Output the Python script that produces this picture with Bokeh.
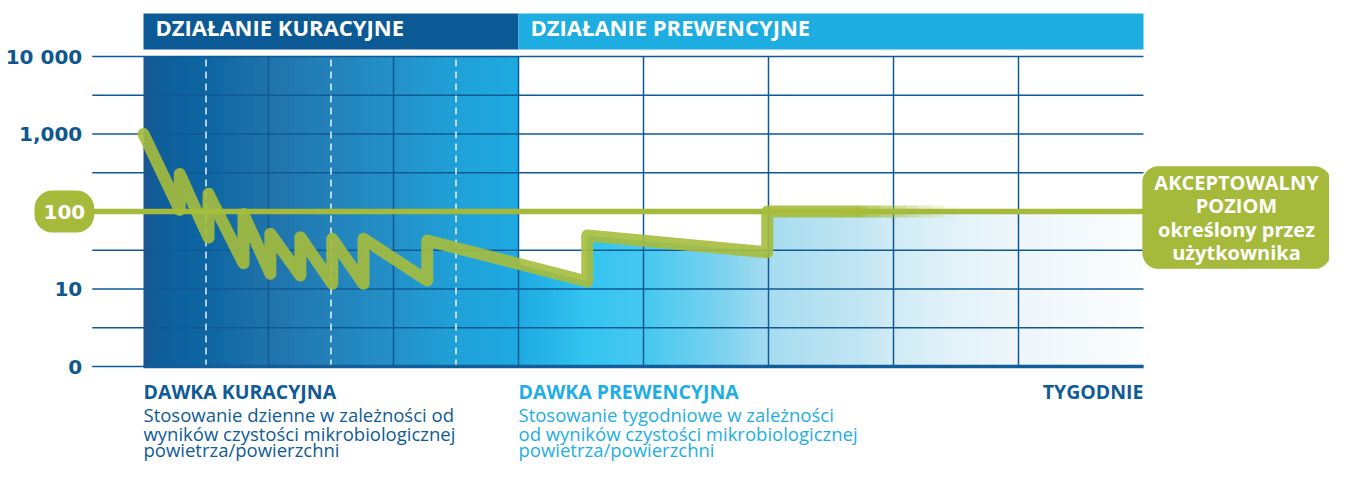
import numpy as np
from bokeh.plotting import figure
from bokeh.models import Label, Range1d
from bokeh.core.properties import value
from bokeh.embed import file_html
from bokeh.resources import INLINE

# ---------------- data ----------------
phases = ["DZIAŁANIE KURACYJNE", "DZIAŁANIE PREWENCYJNE"]
phase_start = [0, 6]
phase_end = [6, 16]
day_dashed = [1, 3, 5]          # daily boundaries (dashed)
day_solid = [2, 4]              # daily boundaries (solid)
week_lines = [6, 8, 10, 12, 14]  # weekly boundaries
y_ticks = [1, 10, 100, 1000, 10000]
y_tick_labels = ["0", "10", "100", "1,000", "10 000"]
acceptable_level = 100
acceptable_label = ["AKCEPTOWALNY", "POZIOM", "określony przez", "użytkownika"]

time = [0, 0.58, 0.58, 1.04, 1.04, 1.6, 1.6, 2.03, 2.03, 2.51, 2.51,
        3.02, 3.02, 3.52, 3.52, 4.54, 4.54, 7.1, 7.1, 9.98, 9.98, 11.4]
cfu = [1000, 105, 305, 46, 169, 21.5, 93, 15.7, 51.5, 14.9, 46.6,
       11.7, 44.4, 11.7, 44.4, 12.9, 42.3, 12.5, 49, 29.8, 100, 100]

cur_title = "DAWKA KURACYJNA"
cur_desc = ["Stosowanie dzienne w zależności od",
            "wyników czystości mikrobiologicznej",
            "powietrza/powierzchni"]
prev_title = "DAWKA PREWENCYJNA"
prev_desc = ["Stosowanie tygodniowe w zależności",
             "od wyników czystości mikrobiologicznej",
             "powietrza/powierzchni"]
x_unit_label = "TYGODNIE"

# ---------------- layout / style ----------------
W, H = 1329, 462
PX_X = 62.5
X_START = -143 / PX_X
X_END = X_START + W / PX_X
PX_DEC = 77.5
Y_TOP_LOG = 366 / PX_DEC
Y_BOT_LOG = Y_TOP_LOG - H / PX_DEC
GRID_X0 = -0.82
HEADER_BOT_LOG, HEADER_TOP_LOG = 4.09, 4.555
HEADER_TEXT_LOG = 4.387

DARK = "#0c5a95"
LIGHT = "#1eade1"
GRID = "#0f5a95"
GREEN = "#a5b93b"
TXT_DARK = "#0e5b96"
TXT_LIGHT = "#1eaee3"

DARK_STOPS = [(0.0, "#1b5592"), (0.04, "#0e5f9b"), (0.17, "#0d66a2"), (0.33, "#1f73aa"),
              (0.5, "#2382ba"), (0.67, "#2391c8"), (0.83, "#20a0d8"), (1.0, "#1eaae1")]
LIGHT_STOPS = [(0.0, "#1eaae1"), (0.11, "#33c4f0"), (0.2, "#45c8f0"), (0.33, "#7ed2ef"),
               (0.4, "#a6dcf0"), (0.54, "#c0e5f2"), (0.6, "#d0ebf5"), (0.7, "#e3f2f9"),
               (0.8, "#eef6fb"), (1.0, "#fbfdfe")]


def hex2rgb(h):
    h = h.lstrip("#")
    return np.array([int(h[i:i + 2], 16) for i in (0, 2, 4)], dtype=float)


def grad_colors(stops, fr):
    pos = np.array([s[0] for s in stops])
    cols = np.array([hex2rgb(s[1]) for s in stops])
    out = []
    for f in fr:
        rgb = [np.interp(f, pos, cols[:, k]) for k in range(3)]
        out.append("#%02x%02x%02x" % tuple(int(round(c)) for c in rgb))
    return out


def strips(x0, x1, n, stops):
    edges = np.linspace(x0, x1, n + 1)
    centers = (edges[:-1] + edges[1:]) / 2
    cols = grad_colors(stops, (centers - x0) / (x1 - x0))
    right = edges[1:].copy()
    right[:-1] += (x1 - x0) / n * 0.6
    return edges[:-1], right, cols


p = figure(width=W, height=H, x_range=Range1d(X_START, X_END),
           y_range=Range1d(10 ** Y_BOT_LOG, 10 ** Y_TOP_LOG), y_axis_type="log",
           x_axis_location=None, y_axis_location=None, min_border=0,
           toolbar_location=None, output_backend="svg", outline_line_color=None,
           background_fill_color="white", border_fill_color="white")
p.grid.visible = False

y_lo, y_hi = y_ticks[0], y_ticks[-1]

# preventive gradient (full height), then white mask above the curve
l, r, c = strips(phase_start[1], phase_end[1], 125, LIGHT_STOPS)
p.quad(left=l, right=r, bottom=y_lo, top=y_hi, fill_color=c, line_color=None)
i0 = max(i for i, t in enumerate(time) if t < phase_start[1])
mask_x = time[i0:] + [phase_end[1]]
mask_y = cfu[i0:] + [acceptable_level]
p.varea(x=mask_x, y1=mask_y, y2=y_hi, fill_color="white")

# curative gradient (full height)
l, r, c = strips(phase_start[0], phase_end[0], 75, DARK_STOPS)
p.quad(left=l, right=r, bottom=y_lo, top=y_hi, fill_color=c, line_color=None)

# grid
y_grid = 10 ** np.arange(0, 4.01, 0.5)
p.segment(x0=GRID_X0, x1=phase_end[-1], y0=y_grid, y1=y_grid, line_color=GRID, line_width=1.5)
vx = day_solid + week_lines
p.segment(x0=vx, x1=vx, y0=y_lo, y1=y_hi, line_color=GRID, line_width=1.5)
p.segment(x0=day_dashed, x1=day_dashed, y0=y_lo, y1=y_hi, line_color="white",
          line_width=1.5, line_dash="7 5", line_alpha=0.9)
p.segment(x0=phase_start[0], x1=phase_end[-1], y0=y_lo, y1=y_lo, line_color="#125e9a", line_width=3.5)

# acceptable level line
p.segment(x0=GRID_X0, x1=phase_end[-1], y0=acceptable_level, y1=acceptable_level,
          line_color=GREEN, line_width=5.5)

# contamination curve
p.line(time, cfu, line_color="#a6bd3c", line_width=12, line_alpha=0.9,
       line_join="round", line_cap="round")
tail = np.linspace(time[-1], time[-1] + 1.6, 9)
p.segment(x0=tail[:-1], x1=tail[1:], y0=cfu[-1], y1=cfu[-1], line_color="#a6bd3c",
          line_width=12, line_alpha=list(np.linspace(0.85, 0.05, 8)), line_cap="butt")

# header bands
p.quad(left=phase_start, right=phase_end, bottom=10 ** HEADER_BOT_LOG, top=10 ** HEADER_TOP_LOG,
       fill_color=[DARK, LIGHT], line_color=None)
p.text(x=phase_start, y=[10 ** HEADER_TEXT_LOG] * 2, text=phases, x_offset=12,
       text_font=value("Open Sans"), text_font_style="bold", text_font_size="22px",
       text_color="white", text_baseline="alphabetic", text_align="left")

# y tick labels
lab_y = [t for t in y_ticks if t != acceptable_level]
lab_t = [s for t, s in zip(y_ticks, y_tick_labels) if t != acceptable_level]
p.text(x=[GRID_X0] * len(lab_y), y=lab_y, text=lab_t, x_offset=-10,
       text_font=value("DejaVu Sans"), text_font_style="bold", text_font_size="20px",
       text_color="#0e5891", text_align="right", text_baseline="middle")

pill = Label(x=GRID_X0, y=acceptable_level, text=y_tick_labels[y_ticks.index(acceptable_level)],
             x_offset=2, text_align="right", text_baseline="middle",
             text_font="DejaVu Sans", text_font_style="bold", text_font_size="20px",
             text_color="white", background_fill_color=GREEN, border_radius=18,
             padding=(9, 14))
p.add_layout(pill)

box = Label(x=phase_end[-1], y=acceptable_level, x_offset=93, y_offset=-6,
            text="\n".join(acceptable_label), text_align="center", text_baseline="middle",
            text_font="Open Sans", text_font_style="bold", text_font_size="20px",
            text_line_height=0.86, text_color="white",
            background_fill_color=GREEN, border_radius=16, padding=(12, 3))
p.add_layout(box)

# bottom texts
title_off = 24.5
offs = [48, 66.5, 83]
for x, t, col, al in [(phase_start[0], cur_title, TXT_DARK, "left"),
                      (phase_start[1], prev_title, TXT_LIGHT, "left"),
                      (phase_end[-1], x_unit_label, TXT_DARK, "right")]:
    p.text(x=[x], y=[y_lo], text=[t], y_offset=title_off,
           text_font=value("Open Sans"), text_font_style="bold", text_font_size="19.5px",
           text_color=col, text_baseline="alphabetic", text_align=al)
for line, o in zip(cur_desc, offs):
    p.text(x=[phase_start[0]], y=[y_lo], text=[line], y_offset=o,
           text_font=value("Open Sans"), text_font_size="18.5px",
           text_color=TXT_DARK, text_baseline="alphabetic")
for line, o in zip(prev_desc, offs):
    p.text(x=[phase_start[1]], y=[y_lo], text=[line], y_offset=o,
           text_font=value("Open Sans"), text_font_size="18.5px",
           text_color=TXT_LIGHT, text_baseline="alphabetic")

open("out.html", "w").write(file_html(p, INLINE))
